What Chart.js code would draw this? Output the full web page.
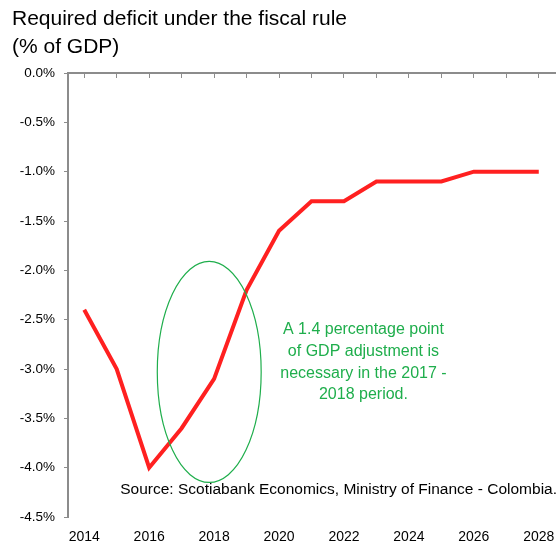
<!DOCTYPE html>
<html>
<head>
<meta charset="utf-8">
<script src="https://cdn.jsdelivr.net/npm/chart.js@4"></script>
<style>
  html, body { margin: 0; padding: 0; background: #fff; }
  #wrap { width: 559px; height: 544px; position: relative; }
</style>
</head>
<body>
<div id="wrap"><canvas id="chart"></canvas></div>
<script>
const years = ["2014", "2015", "2016", "2017", "2018", "2019", "2020", "2021",
  "2022", "2023", "2024", "2025", "2026", "2027", "2028"];
const deficit = [-2.4, -3.0, -4.0, -3.6, -3.1, -2.2, -1.6, -1.3, -1.3, -1.1, -1.1, -1.1, -1.0, -1.0, -1.0];
const titleLines = ["Required deficit under the fiscal rule", "(% of GDP)"];
const noteLines = ["A 1.4 percentage point", "of GDP adjustment is", "necessary in the 2017 -", "2018 period."];
const sourceText = "Source: Scotiabank Economics, Ministry of Finance - Colombia.";

const FONT = "'Liberation Sans', 'DejaVu Sans', sans-serif";
const GREEN = "#1fae4c";
const AXIS = "#8c8c8c";

// ellipse around the 2017-2018 adjustment, in data units
const ellipse = { x: 3.85, y: -3.03, rx: 1.6, ry: 1.12 };
const note = { x: 8.6, y: -2.6 };

const extras = {
  id: "extras",
  afterDraw(chart) {
    const ctx = chart.ctx;
    const xs = chart.scales.x;
    const ys = chart.scales.y;
    ctx.save();

    // title
    ctx.fillStyle = "#000";
    ctx.textAlign = "left";
    ctx.textBaseline = "middle";
    ctx.font = "21px " + FONT;
    ctx.fillText(titleLines[0], 12, 19);
    ctx.fillText(titleLines[1], 12, 47);

    // ellipse
    const cx = xs.getPixelForValue(ellipse.x);
    const cy = ys.getPixelForValue(ellipse.y);
    const rx = Math.abs(xs.getPixelForValue(ellipse.x + ellipse.rx) - cx);
    const ry = Math.abs(ys.getPixelForValue(ellipse.y + ellipse.ry) - cy);
    ctx.strokeStyle = GREEN;
    ctx.lineWidth = 1.2;
    ctx.beginPath();
    ctx.ellipse(cx, cy, rx, ry, 0, 0, Math.PI * 2);
    ctx.stroke();

    // note
    ctx.fillStyle = GREEN;
    ctx.textAlign = "center";
    ctx.font = "16px " + FONT;
    const nx = xs.getPixelForValue(note.x);
    const ny = ys.getPixelForValue(note.y);
    noteLines.forEach((t, i) => ctx.fillText(t, nx, ny + i * 21.8));

    // source
    ctx.fillStyle = "#000";
    ctx.textAlign = "right";
    ctx.font = "15.5px " + FONT;
    ctx.fillText(sourceText, 557, 490);
    ctx.restore();
  }
};

new Chart(document.getElementById("chart"), {
  type: "line",
  data: {
    labels: years,
    datasets: [{
      data: deficit,
      borderColor: "#ff2020",
      borderWidth: 4,
      pointRadius: 0,
      tension: 0,
      fill: false,
    }]
  },
  options: {
    responsive: true,
    maintainAspectRatio: false,
    animation: false,
    layout: { padding: { top: 73, right: 4, left: 0, bottom: 0 } },
    plugins: {
      legend: { display: false },
      tooltip: { enabled: false },
      title: { display: false },
    },
    scales: {
      x: {
        type: "category",
        position: "bottom",
        offset: true,
        grid: { display: false, drawTicks: false, tickLength: 0 },
        border: { display: false },
        ticks: {
          autoSkip: false,
          maxRotation: 0,
          padding: 12,
          color: "#000",
          font: { family: FONT, size: 14 },
          callback: function (v, i) { return i % 2 === 0 ? years[i] : ""; }
        },
        afterFit(scale) {
          scale.height = 27;
          scale.paddingLeft = 0;
          scale.paddingRight = 0;
        }
      },
      x2: {
        type: "category",
        labels: years,
        position: "top",
        offset: true,
        grid: { drawOnChartArea: false, drawTicks: true, tickLength: -5, color: AXIS, lineWidth: 1 },
        border: { display: true, color: AXIS, width: 2 },
        ticks: { display: false },
        afterFit(scale) {
          scale.height = 0;
          scale.paddingLeft = 0;
          scale.paddingRight = 0;
        }
      },
      y: {
        min: -4.5,
        max: 0,
        grid: { drawOnChartArea: false, drawTicks: true, tickLength: 4, color: AXIS },
        border: { display: true, color: AXIS, width: 2 },
        ticks: {
          stepSize: 0.5,
          padding: 9,
          color: "#000",
          font: { family: FONT, size: 13.5 },
          callback: v => v.toFixed(1) + "%"
        },
        afterFit(scale) { scale.width = 68; }
      }
    }
  },
  plugins: [extras]
});
</script>
</body>
</html>
